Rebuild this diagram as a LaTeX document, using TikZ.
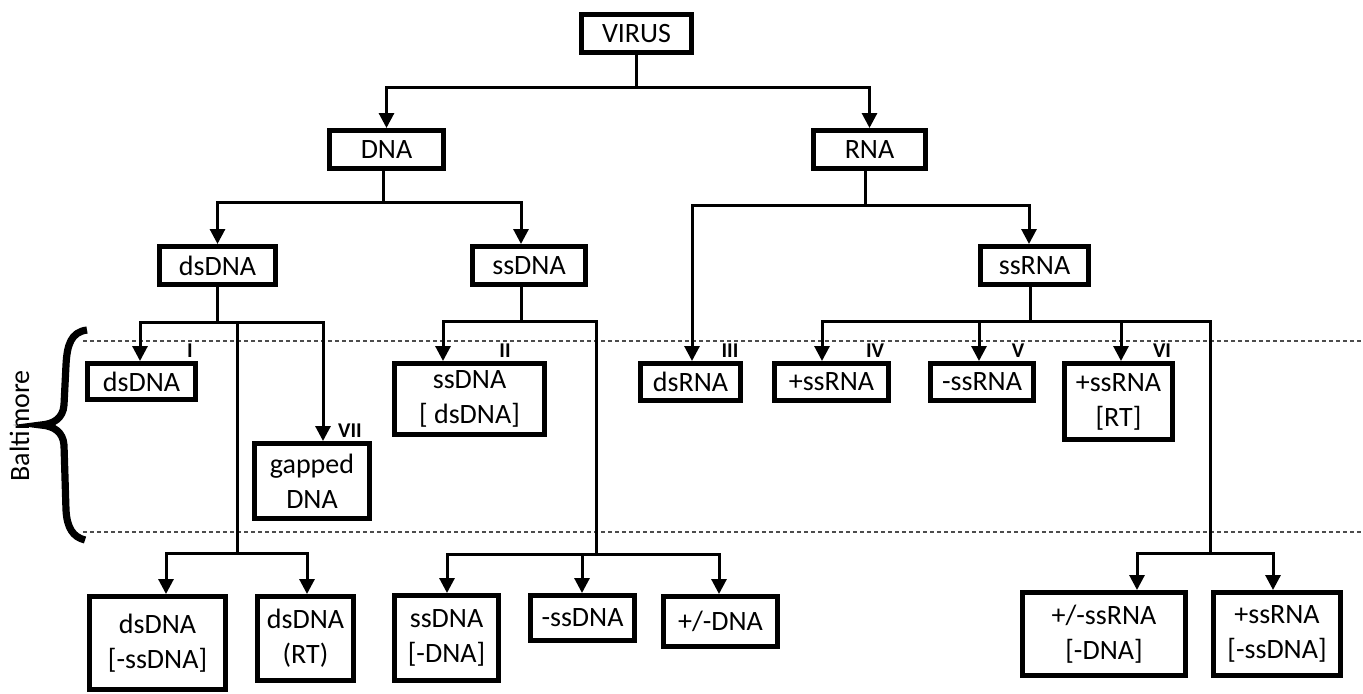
\documentclass[tikz,border=0pt]{standalone}
\usepackage{fontspec}
\setmainfont{Carlito}
\usetikzlibrary{arrows.meta,calc}
\begin{document}
\begin{tikzpicture}[x=0.5pt,y=-0.5pt,
  box/.style={draw,line width=2.5pt,inner sep=0pt,align=center,font=\fontsize{14}{17.5}\selectfont},
  ln/.style={line width=1.5pt},
  arr/.style={ln,-{Triangle[length=7.5pt,width=7.5pt]}},
  roman/.style={font=\fontsize{10.5}{12}\selectfont\bfseries,inner sep=0pt,anchor=base},
  dotline/.style={line width=0.6pt,dash pattern=on 2pt off 1.5pt,black!70},
  bracestyle/.style={line width=3.6pt}]
\useasboundingbox (0,0) rectangle (1363,693);

% dotted Baltimore band
\coordinate (t0) at (83,341);
\coordinate (t1) at (1363,341);
\coordinate (u0) at (83,532);
\coordinate (u1) at (1363,532);
\draw[dotline] (t0) -- (t1);
\draw[dotline] (u0) -- (u1);

% nodes
\node[box,minimum width=55pt,minimum height=19pt] (VIRUS) at (636.5,33.5) {VIRUS};
\node[box,minimum width=57pt,minimum height=19pt] (DNA) at (386.5,149.5) {DNA};
\node[box,minimum width=56pt,minimum height=19pt] (RNA) at (869.5,149.5) {RNA};
\node[box,minimum width=58pt,minimum height=19pt] (dsDNA) at (217.5,265.5) {dsDNA};
\node[box,minimum width=56.5pt,minimum height=19pt] (ssDNA) at (529,265.5) {ssDNA};
\node[box,minimum width=54pt,minimum height=19pt] (ssRNA) at (1034.5,265.5) {ssRNA};

\node[box,minimum width=54pt,minimum height=18pt] (dsDNAI) at (141.5,381.5) {dsDNA};
\node[box,minimum width=57.5pt,minimum height=37.5pt] (gapped) at (312,481) {gapped\\DNA};
\node[box,minimum width=75pt,minimum height=35.5pt] (ssDNAII) at (469.5,399) {ssDNA\\{[} dsDNA]};
\node[box,minimum width=50pt,minimum height=18.5pt] (dsRNA) at (690.5,382) {dsRNA};
\node[box,minimum width=57pt,minimum height=18.5pt] (pssRNA) at (831.5,382) {+ssRNA};
\node[box,minimum width=51.5pt,minimum height=18.5pt] (mssRNA) at (982,382) {-ssRNA};
\node[box,minimum width=54pt,minimum height=38pt] (pssRNART) at (1118.5,401.5) {+ssRNA\\{[}RT]};

\node[box,minimum width=68pt,minimum height=46.5pt] (dsDNAm) at (157.5,643) {dsDNA\\{[}-ssDNA]};
\node[box,minimum width=48pt,minimum height=42pt] (dsDNART) at (305.5,638.5) {dsDNA\\(RT)};
\node[box,minimum width=52pt,minimum height=42.5pt] (ssDNAm) at (446.5,638) {ssDNA\\{[}-DNA]};
\node[box,minimum width=52pt,minimum height=22.5pt] (mssDNA) at (582.5,618) {-ssDNA};
\node[box,minimum width=57pt,minimum height=25pt] (pmDNA) at (720.5,621.5) {+/-DNA};
\node[box,minimum width=81.5pt,minimum height=41.5pt] (pmssRNA) at (1104,634) {+/-ssRNA\\{[}-DNA]};
\node[box,minimum width=63.5pt,minimum height=41.5pt] (pssRNAm) at (1277,634) {+ssRNA\\{[}-ssDNA]};

% Baltimore labels
\node[roman] (lI) at (190,357) {I};
\node[roman] (lII) at (505,357) {II};
\node[roman] (lIII) at (730,357) {III};
\node[roman] (lIV) at (875,357) {IV};
\node[roman] (lV) at (1018,357) {V};
\node[roman] (lVI) at (1162,357) {VI};
\node[roman] (lVII) at (350,437) {VII};

% level 0 -> 1
\coordinate (a0) at (636.5,87);
\draw[ln] (VIRUS.south) -- (a0);
\draw[arr] (a0) -| (DNA.north);
\draw[arr] (a0) -| (RNA.north);

% DNA
\coordinate (b0) at (383,202);
\coordinate (b2) at (521,202);
\draw[ln] (DNA.south -| b0) -- (b0);
\draw[arr] (b0) -| (dsDNA.north);
\draw[arr] (b0) -- (b2) -- (b2 |- ssDNA.north);

% RNA
\coordinate (c0) at (865,205);
\coordinate (c1) at (692,205);
\coordinate (c2) at (1029,205);
\draw[ln] (RNA.south -| c0) -- (c0);
\draw[arr] (c0) -- (c1) -- (c1 |- dsRNA.north);
\draw[arr] (c0) -- (c2) -- (c2 |- ssRNA.north);

% dsDNA
\coordinate (e0) at (217,322);
\coordinate (e1) at (140,322);
\coordinate (e2) at (323,322);
\coordinate (e3) at (237,322);
\coordinate (e4) at (237,553);
\coordinate (e5) at (166,553);
\coordinate (e6) at (307,553);
\draw[ln] (dsDNA.south -| e0) -- (e0);
\draw[arr] (e0) -- (e1) -- (e1 |- dsDNAI.north);
\draw[arr] (e0) -- (e2) -- (e2 |- gapped.north);
\draw[ln] (e3) -- (e4);
\draw[arr] (e4) -- (e5) -- (e5 |- dsDNAm.north);
\draw[arr] (e4) -- (e6) -- (e6 |- dsDNART.north);

% ssDNA
\coordinate (f0) at (521,321);
\coordinate (f1) at (443,321);
\coordinate (f3) at (596,321);
\coordinate (f4) at (596,554);
\coordinate (f5) at (447,554);
\coordinate (f6) at (582,554);
\coordinate (f7) at (719,554);
\draw[ln] (ssDNA.south -| f0) -- (f0);
\draw[arr] (f0) -- (f1) -- (f1 |- ssDNAII.north);
\draw[ln] (f0) -- (f3) -- (f4);
\draw[arr] (f4) -- (f5) -- (f5 |- ssDNAm.north);
\draw[arr] (f4) -- (f6) -- (f6 |- mssDNA.north);
\draw[arr] (f4) -- (f7) -- (f7 |- pmDNA.north);

% ssRNA
\coordinate (g0) at (1030,321);
\coordinate (g1) at (822,321);
\coordinate (g2) at (979,321);
\coordinate (g3) at (1121,321);
\coordinate (g4) at (1210,321);
\coordinate (g5) at (1210,553);
\coordinate (g6) at (1137,553);
\coordinate (g7) at (1273,553);
\draw[ln] (ssRNA.south -| g0) -- (g0);
\draw[arr] (g0) -- (g1) -- (g1 |- pssRNA.north);
\draw[arr] (g0) -- (g2) -- (g2 |- mssRNA.north);
\draw[arr] (g0) -- (g3) -- (g3 |- pssRNART.north);
\draw[ln] (g0) -- (g4) -- (g5);
\draw[arr] (g5) -- (g6) -- (g6 |- pmssRNA.north);
\draw[arr] (g5) -- (g7) -- (g7 |- pssRNAm.north);

% brace and Baltimore
\draw[bracestyle] (87,330) .. controls (71,332) and (67,345) .. (66,365)
  -- (64,405) .. controls (63,418) and (54,424) .. (41,425)
  .. controls (54,426) and (63,432) .. (64,445)
  -- (66,510) .. controls (67,528) and (73,537) .. (85,540);
\node[rotate=90,font=\fontsize{14}{18}\selectfont,inner sep=0pt,anchor=base] (balt) at (29,426) {Baltimore};
\end{tikzpicture}
\end{document}
